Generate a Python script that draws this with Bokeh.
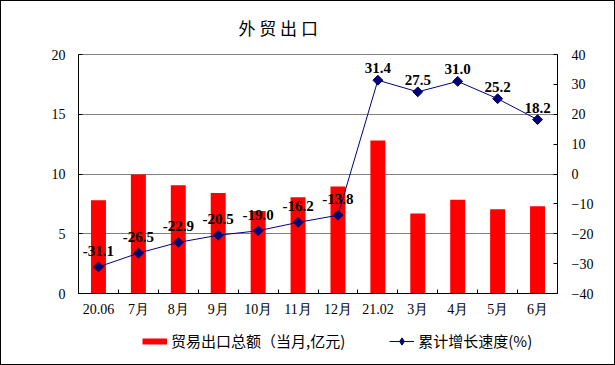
from math import pi
from bokeh.plotting import figure
from bokeh.layouts import column
from bokeh.models import (Range1d, LinearAxis, FixedTicker, Legend, LegendItem,
                          ColumnDataSource)
from bokeh.core.properties import value
from bokeh.embed import file_html
from bokeh.resources import INLINE

# ---- data ----
categories = ["20.06", "7月", "8月", "9月", "10月", "11月", "12月",
              "21.02", "3月", "4月", "5月", "6月"]
exports = [7.8, 9.95, 9.05, 8.4, 6.9, 8.05, 8.95, 12.8, 6.7, 7.85, 7.05, 7.3]
growth = [-31.1, -26.5, -22.9, -20.5, -19.0, -16.2, -13.8, 31.4, 27.5, 31.0, 25.2, 18.2]
left_ticks = [0, 5, 10, 15, 20]
right_ticks = [-40, -30, -20, -10, 0, 10, 20, 30, 40]
bar_name = "贸易出口总额（当月,亿元)"
line_name = "累计增长速度(%)"

n = len(categories)
xs = [i + 0.5 for i in range(n)]
labels = ["%.1f" % v for v in growth]
offsets = [-16 if v < 0 else -12 for v in growth]

src = ColumnDataSource(dict(x=xs, exports=exports, growth=growth,
                            labels=labels, offsets=offsets))

SERIF = "Liberation Serif"
CJK = "Noto Sans CJK SC"
RED = "#FF0000"
NAVY = "#000080"
MARK = "#000070"

p = figure(width=613, height=322, output_backend="svg", toolbar_location=None,
           x_range=Range1d(0, n), y_range=Range1d(0, 20),
           min_border_left=77, min_border_right=57,
           min_border_top=52, min_border_bottom=30,
           background_fill_color="white", border_fill_color="white")
p.outline_line_color = "#808080"

p.title.text = "外 贸 出 口"
p.title.text_font = CJK
p.title.text_font_size = "17px"
p.title.text_font_style = "normal"
p.title.text_color = "black"
p.title.align = "left"
p.title.vertical_align = "top"
p.title.offset = 160
p.title.standoff = 26

p.extra_y_ranges = {"rate": Range1d(-40, 40)}

# grid
p.xgrid.visible = False
p.ygrid.ticker = FixedTicker(ticks=left_ticks)
p.ygrid.grid_line_color = "#808080"
p.ygrid.grid_line_width = 1

# bottom axis
xa = p.xaxis[0]
xa.ticker = FixedTicker(ticks=xs, minor_ticks=list(range(n + 1)))
xa.major_label_overrides = {x: c for x, c in zip(xs, categories)}
xa.major_tick_in = 0
xa.major_tick_out = 0
xa.minor_tick_in = 4
xa.minor_tick_out = 0
xa.minor_tick_line_color = "black"
xa.axis_line_color = "black"
xa.major_label_standoff = 8
xa.major_label_text_font = SERIF
xa.major_label_text_font_size = "14px"
xa.major_label_text_color = "black"

# left axis
ya = p.yaxis[0]
ya.ticker = FixedTicker(ticks=left_ticks)
ya.major_tick_in = 4
ya.major_tick_out = 0
ya.minor_tick_line_color = None
ya.major_tick_line_color = "black"
ya.axis_line_color = "black"
ya.major_label_standoff = 13
ya.major_label_text_font = SERIF
ya.major_label_text_font_size = "14px"
ya.major_label_text_color = "black"

# right axis
ra = LinearAxis(y_range_name="rate", ticker=FixedTicker(ticks=right_ticks))
ra.major_tick_in = 4
ra.major_tick_out = 0
ra.minor_tick_line_color = None
ra.major_tick_line_color = "black"
ra.axis_line_color = "black"
ra.major_label_standoff = 14
ra.major_label_text_font = SERIF
ra.major_label_text_font_size = "14px"
ra.major_label_text_color = "black"
p.add_layout(ra, "right")

# bars
p.vbar(x="x", top="exports", width=0.375, source=src,
       fill_color=RED, line_color=None)

# line + markers
p.line(x="x", y="growth", source=src, y_range_name="rate",
       line_color=NAVY, line_width=1)
p.scatter(x="x", y="growth", source=src, y_range_name="rate",
          marker="square", angle=pi / 4, size=7,
          fill_color=MARK, line_color=MARK)

# data labels
p.text(x="x", y="growth", text="labels", source=src, y_range_name="rate",
       y_offset="offsets", text_align="center", text_baseline="alphabetic",
       text_font=value(SERIF), text_font_size="15px", text_font_style="bold",
       text_color="black")

# ---- legend strip (same data, drawn outside the strip's visible range) ----
lf = figure(width=613, height=41, output_backend="svg", toolbar_location=None,
            x_range=Range1d(0, n), y_range=Range1d(1000, 2000),
            x_axis_type=None, y_axis_type=None, title=None,
            min_border=0, outline_line_color=None,
            background_fill_color="white", border_fill_color="white")
lf.grid.visible = False
lr1 = lf.line(x="x", y="exports", source=src, line_color=RED, line_width=6)
lr2 = lf.line(x="x", y="growth", source=src, line_color=NAVY, line_width=1)
lr3 = lf.scatter(x="x", y="growth", source=src, marker="diamond", size=9,
                 fill_color=MARK, line_color=MARK)
legend = Legend(items=[
    LegendItem(label=bar_name, renderers=[lr1]),
    LegendItem(label=line_name, renderers=[lr2, lr3]),
], orientation="horizontal", location=(64, 13))
legend.glyph_width = 25
legend.glyph_height = 18
legend.label_height = 16
legend.label_standoff = 4
legend.spacing = 44
legend.padding = 0
legend.margin = 0
legend.border_line_color = None
legend.background_fill_alpha = 0
legend.label_text_font = CJK
legend.label_text_font_size = "15px"
legend.label_text_color = "black"
lf.add_layout(legend, "center")

layout = column(p, lf, spacing=0, styles={"border": "1px solid black"})

open("out.html", "w").write(file_html(layout, INLINE))
